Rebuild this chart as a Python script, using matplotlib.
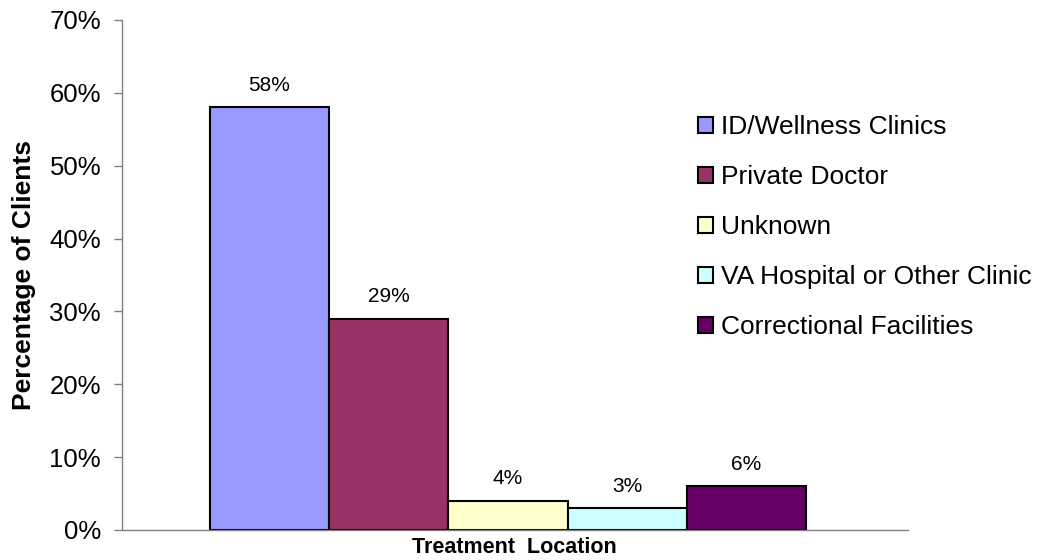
import numpy as np
import matplotlib.pyplot as plt
from matplotlib.ticker import FuncFormatter

plt.rcParams['font.family'] = ['Liberation Sans', 'DejaVu Sans']

# data
locations = ["ID/Wellness Clinics", "Private Doctor", "Unknown",
             "VA Hospital or Other Clinic", "Correctional Facilities"]
percents = [58, 29, 4, 3, 6]
colors = ["#9999FF", "#993366", "#FFFFCC", "#CCFFFF", "#660066"]

fig = plt.figure(figsize=(10.42, 5.6), dpi=100)
ax = fig.add_axes([0.117, 0.0536, 0.754, 0.9107])

x = np.arange(len(percents))
bars = ax.bar(x, percents, width=1.0, color=colors, edgecolor="black",
              linewidth=1.5)

for xi, v in zip(x, percents):
    ax.annotate(f"{v}%", (xi, v), xytext=(0, 9), textcoords="offset points",
                ha="center", va="bottom", fontsize=15)

ax.set_xlim(-1.237, 5.35)
ax.set_ylim(0, 70)
ax.set_yticks(np.arange(0, 71, 10))
ax.yaxis.set_major_formatter(FuncFormatter(lambda v, p: f"{int(v)}%"))
ax.tick_params(axis="y", labelsize=18.5, length=6, color="#808080", width=1, pad=9)
ax.set_xticks([])

for s in ["top", "right"]:
    ax.spines[s].set_visible(False)
for s in ["left", "bottom"]:
    ax.spines[s].set_color("#808080")
    ax.spines[s].set_linewidth(1)

ax.set_ylabel("Percentage of Clients", fontsize=19, fontweight="bold", labelpad=10)
ax.set_xlabel("Treatment  Location", fontsize=15.5, fontweight="bold", labelpad=5)

ax.legend(bars, locations, loc="upper left", bbox_to_anchor=(0.720, 0.834),
          frameon=False, fontsize=19, handlelength=0.55, handleheight=0.55,
          handletextpad=0.3, labelspacing=0.985, borderaxespad=0)

fig.savefig("out.png", dpi=100)
